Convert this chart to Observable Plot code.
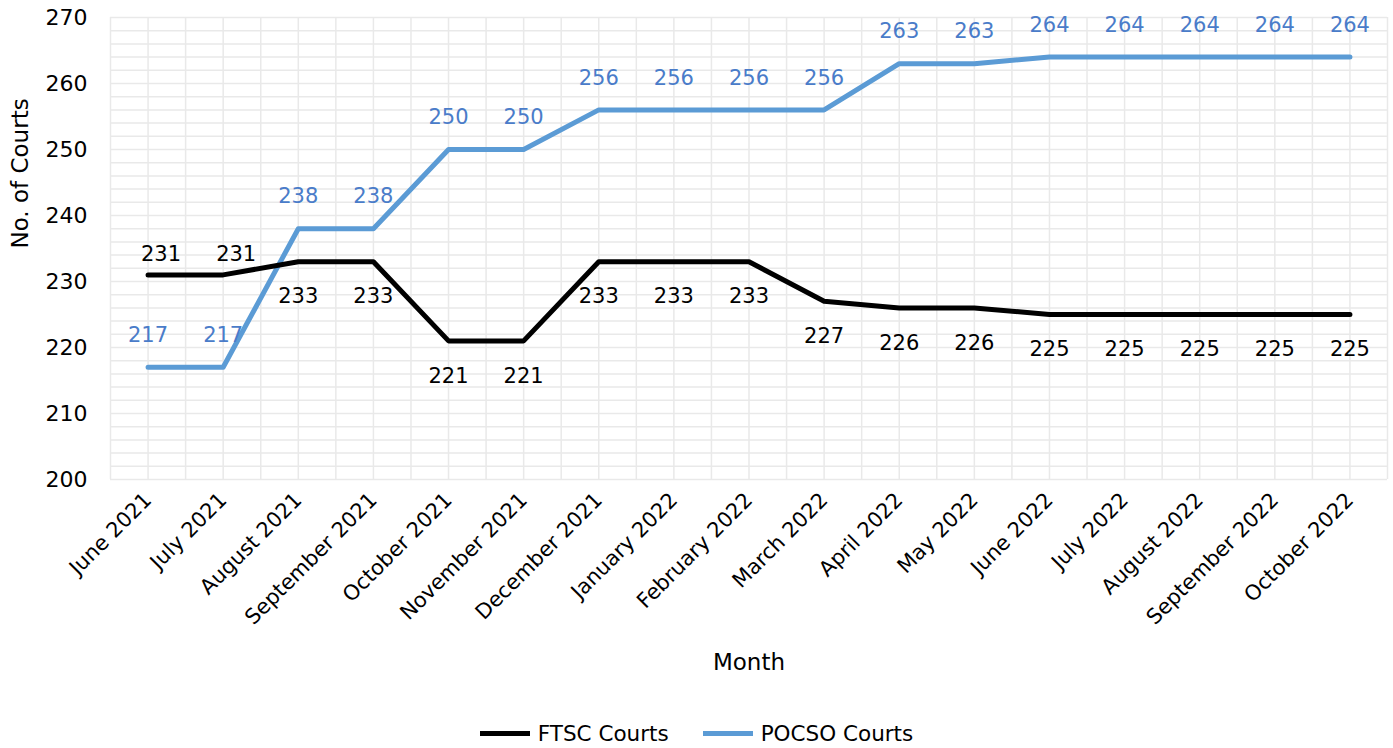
<!DOCTYPE html>
<html>
<head>
<meta charset="utf-8">
<script src="https://cdn.jsdelivr.net/npm/d3@7"></script>
<script src="https://cdn.jsdelivr.net/npm/@observablehq/plot@0.6"></script>
<style>
  html, body { margin: 0; padding: 0; background: #fff; }
  body { width: 1393px; height: 748px; overflow: hidden; font-family: "DejaVu Sans", sans-serif; }
  #legend { display: flex; justify-content: center; align-items: center; padding-top: 22px; height: 22px; font-size: 21.5px; color: #000; }
  .item { display: flex; align-items: center; margin: 0 17px; }
  .sw { width: 50px; height: 5px; margin-right: 8px; }
</style>
</head>
<body>
<div id="chart"></div>
<div id="legend"></div>
<script>
const months = ["June 2021","July 2021","August 2021","September 2021","October 2021","November 2021","December 2021","January 2022","February 2022","March 2022","April 2022","May 2022","June 2022","July 2022","August 2022","September 2022","October 2022"];
const ftsc = [231,231,233,233,221,221,233,233,233,227,226,226,225,225,225,225,225];
const pocso = [217,217,238,238,250,250,256,256,256,256,263,263,264,264,264,264,264];
const seriesNames = ["FTSC Courts", "POCSO Courts"];
const seriesColors = ["#000000", "#5b9bd5"];
const yTicks = d3.range(200, 271, 10);

const ftscData = months.map((m, i) => ({i, v: ftsc[i], above: ftsc[i] > pocso[i]}));
const pocsoData = months.map((m, i) => ({i, v: pocso[i]}));
const grid = {stroke: "#e9e9e9", strokeWidth: 1.5};

const chart = Plot.plot({
  width: 1393,
  height: 700,
  marginTop: 17,
  marginBottom: 221,
  marginLeft: 110,
  marginRight: 6,
  style: {fontFamily: "DejaVu Sans, sans-serif", fontSize: "21px", color: "#000", background: "#fff"},
  x: {type: "linear", domain: [-0.5, months.length - 0.5]},
  y: {domain: [200, 270]},
  marks: [
    Plot.ruleY(d3.range(200, 271, 2), grid),
    Plot.ruleX(d3.range(-0.5, months.length, 0.5), grid),
    Plot.axisY(yTicks, {tickSize: 0, tickPadding: 23, label: null, fontSize: 22}),
    Plot.axisX(d3.range(months.length), {tickSize: 0, tickPadding: 17, tickRotate: -45, tickFormat: i => months[i], label: null, fontSize: 21}),
    Plot.text(["No. of Courts"], {frameAnchor: "left", dx: -90, rotate: -90, fontSize: 23}),
    Plot.text(["Month"], {frameAnchor: "bottom", dy: 190, fontSize: 23}),
    Plot.line(pocsoData, {x: "i", y: "v", stroke: seriesColors[1], strokeWidth: 5}),
    Plot.line(ftscData, {x: "i", y: "v", stroke: seriesColors[0], strokeWidth: 5}),
    Plot.text(pocsoData, {x: "i", y: "v", text: "v", dy: -32, fill: "#4a7cc9", fontSize: 21}),
    Plot.text(ftscData.filter(d => d.above), {x: "i", y: "v", text: "v", dy: -21, dx: 13, fill: "#000", fontSize: 21}),
    Plot.text(ftscData.filter(d => !d.above), {x: "i", y: "v", text: "v", dy: 35, fill: "#000", fontSize: 21})
  ]
});
document.getElementById("chart").appendChild(chart);

const legend = document.getElementById("legend");
seriesNames.forEach((name, k) => {
  const item = document.createElement("div");
  item.className = "item";
  const sw = document.createElement("div");
  sw.className = "sw";
  sw.style.background = seriesColors[k];
  const t = document.createElement("span");
  t.textContent = name;
  item.appendChild(sw);
  item.appendChild(t);
  legend.appendChild(item);
});
</script>
</body>
</html>
